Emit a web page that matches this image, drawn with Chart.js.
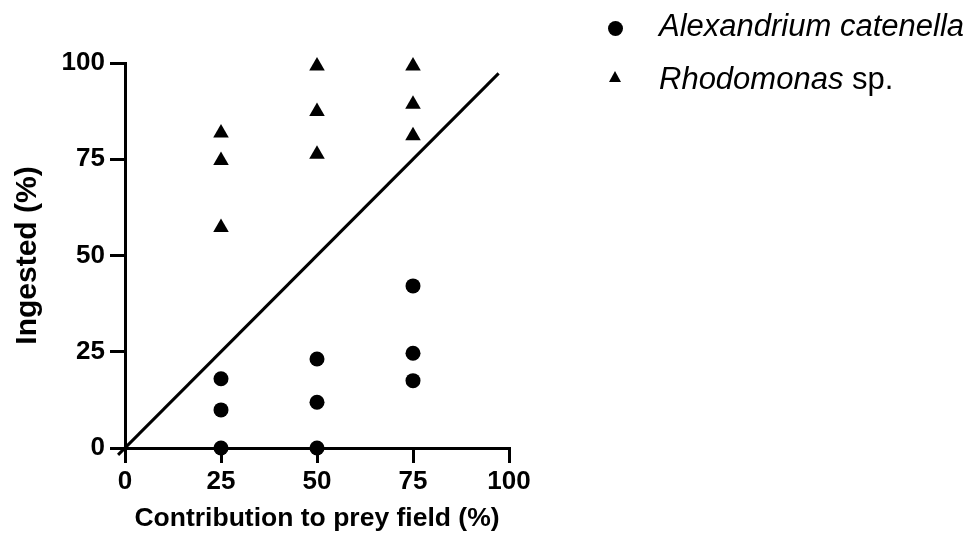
<!DOCTYPE html>
<html>
<head>
<meta charset="utf-8">
<script src="https://cdn.jsdelivr.net/npm/chart.js@4.4.1/dist/chart.umd.min.js"></script>
<style>
  html, body { margin: 0; padding: 0; background: #fff; }
  #wrap { position: relative; width: 965px; height: 547px; }
  #legend { position: absolute; left: 0; top: 0; font-family: "Liberation Sans", Arial, sans-serif; font-size: 31px; color: #000; }
  .row { position: absolute; left: 659px; white-space: nowrap; line-height: 31px; }
  .dot { position: absolute; width: 15px; height: 15px; border-radius: 50%; background: #000; }
  .tri { position: absolute; width: 0; height: 0; border-left: 6.5px solid transparent; border-right: 6.5px solid transparent; border-bottom: 11px solid #000; }
</style>
</head>
<body>
<div id="wrap">
  <canvas id="grafico" width="965" height="547"></canvas>
  <div id="legend">
    <div class="dot" style="left:608px; top:21px;"></div>
    <div class="row" style="top:10px;"><i>Alexandrium catenella</i></div>
    <div class="tri" style="left:609px; top:71px;"></div>
    <div class="row" style="top:63px;"><i>Rhodomonas</i> sp.</div>
  </div>
</div>
<script>
// contribution to prey field (%) for each replicate
const contribucion = [25, 25, 25, 50, 50, 50, 75, 75, 75];
// ingested (%)
const alexandrium = [18.0, 9.9, 0, 23.1, 11.9, 0, 42.1, 24.6, 17.5];
const rhodomonas = [81.8, 74.7, 57.3, 99.2, 87.4, 76.3, 99.2, 89.3, 81.1];
// 1:1 line
const lineaX = [-1.8, 97.3];
const ticksX = [0, 25, 50, 75, 100];
const ticksY = [0, 25, 50, 75, 100];

const fuente = '"Liberation Sans", Arial, sans-serif';

const puntos = (ys) => contribucion.map((x, i) => ({ x: x, y: ys[i] }));

new Chart(document.getElementById('grafico'), {
    type: 'scatter',
    data: {
        datasets: [
            {
                label: 'Alexandrium catenella',
                data: puntos(alexandrium),
                pointStyle: 'circle',
                pointRadius: 7.5,
                pointHoverRadius: 7.5,
                backgroundColor: '#000',
                borderColor: '#000',
                borderWidth: 0,
                clip: false
            },
            {
                label: 'Rhodomonas sp.',
                data: puntos(rhodomonas),
                pointStyle: 'triangle',
                pointRadius: 9,
                pointHoverRadius: 9,
                backgroundColor: '#000',
                borderColor: '#000',
                borderWidth: 0,
                clip: false
            },
            {
                label: '1:1',
                type: 'line',
                data: lineaX.map(v => ({ x: v, y: v })),
                borderColor: '#000',
                borderWidth: 3,
                pointRadius: 0,
                fill: false,
                clip: false
            }
        ]
    },
    options: {
        responsive: false,
        animation: false,
        events: [],
        layout: { padding: { left: 0, top: 63, right: 456, bottom: 0 } },
        plugins: {
            legend: { display: false },
            tooltip: { enabled: false }
        },
        scales: {
            x: {
                type: 'linear',
                min: 0,
                max: 100,
                afterFit: (s) => { s.height = 99; },
                afterBuildTicks: (s) => { s.ticks = ticksX.map(v => ({ value: v })); },
                grid: { drawOnChartArea: false, color: '#000', lineWidth: 3, tickLength: 15, tickWidth: 3 },
                border: { color: '#000', width: 3 },
                ticks: { color: '#000', padding: 3, maxRotation: 0, font: { family: fuente, size: 26, weight: 'bold' } },
                title: {
                    display: true,
                    text: 'Contribution to prey field (%)',
                    color: '#000',
                    padding: { top: 0, bottom: 12 },
                    font: { family: fuente, size: 26.5, weight: 'bold' }
                }
            },
            y: {
                type: 'linear',
                min: 0,
                max: 100,
                afterFit: (s) => { s.width = 125; },
                afterBuildTicks: (s) => { s.ticks = ticksY.map(v => ({ value: v })); },
                grid: { drawOnChartArea: false, color: '#000', lineWidth: 3, tickLength: 15, tickWidth: 3 },
                border: { color: '#000', width: 3 },
                ticks: { color: '#000', padding: 5, font: { family: fuente, size: 26, weight: 'bold' } },
                title: {
                    display: true,
                    text: 'Ingested (%)',
                    color: '#000',
                    padding: { top: 10, bottom: 0 },
                    font: { family: fuente, size: 30, weight: 'bold' }
                }
            }
        }
    }
});
</script>
</body>
</html>
